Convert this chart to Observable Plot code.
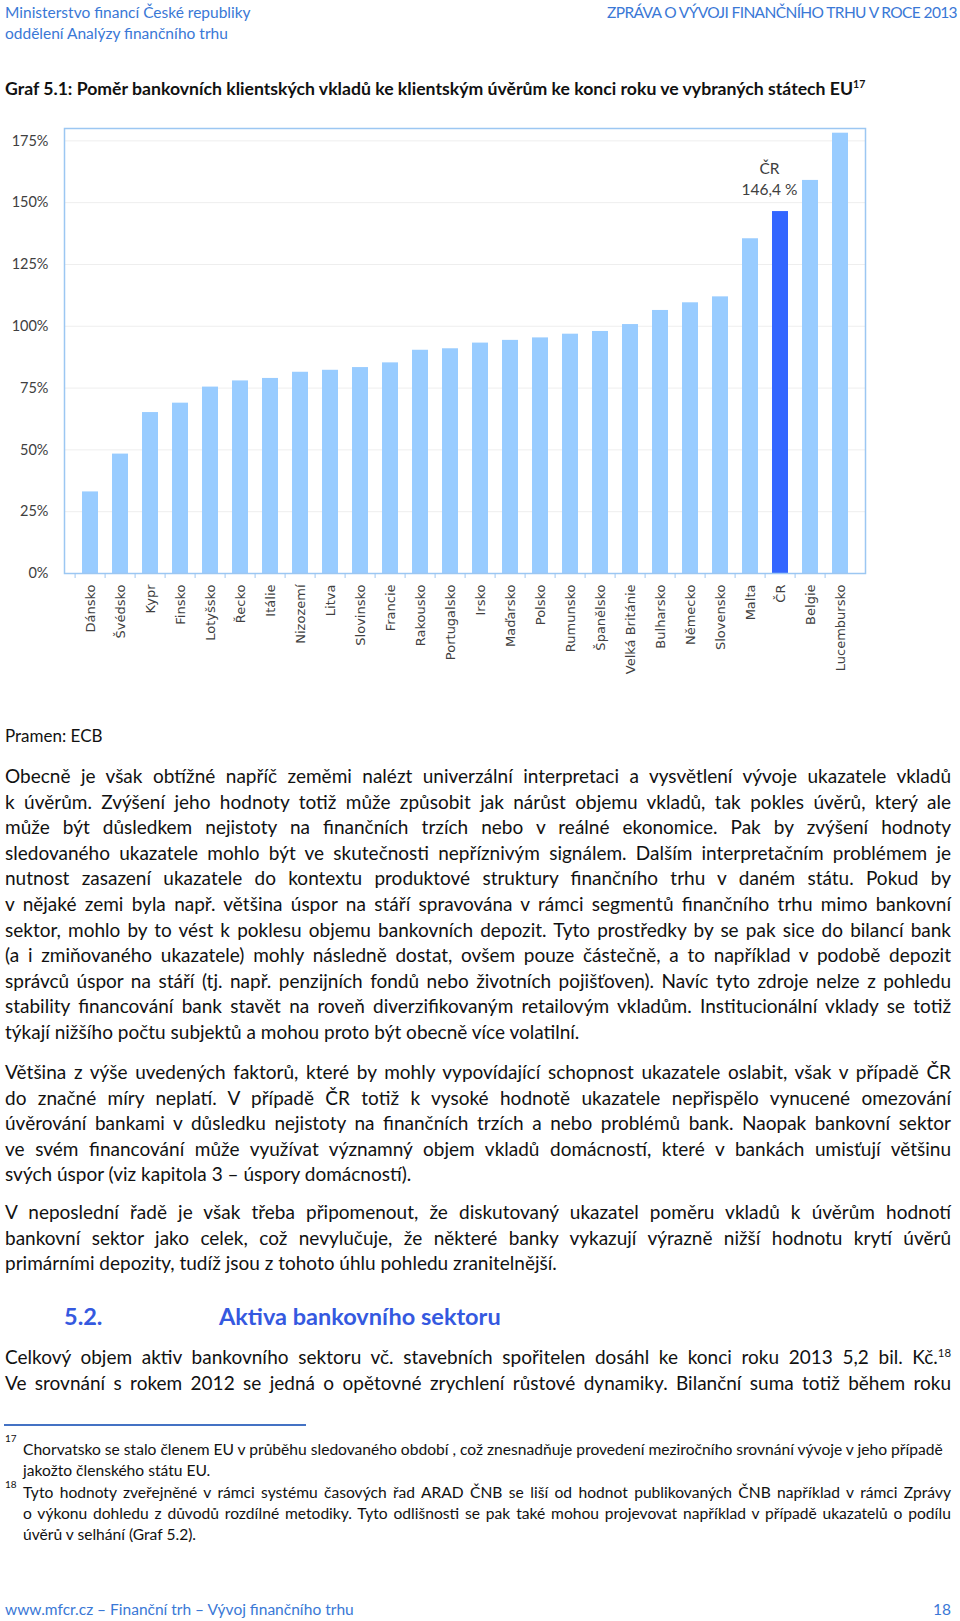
<!DOCTYPE html>
<html><head><meta charset="utf-8">
<script src="https://cdn.jsdelivr.net/npm/d3@7"></script>
<script src="https://cdn.jsdelivr.net/npm/@observablehq/plot@0.6"></script>
<style>
body{margin:0;width:960px;height:1621px;position:relative;background:#fff;font-family:Lato,"Open Sans",sans-serif;color:#111;overflow:hidden}
.a{position:absolute;white-space:nowrap}
.hdr{color:#3a78d6;font-size:15.5px;line-height:20px}
.title{font-weight:bold;font-size:17.65px;line-height:22px;left:5px;top:78px}
.body{font-size:19px;line-height:25.6px;left:5px;width:946px}
.body div{text-align:justify;text-align-last:justify;white-space:nowrap}
.body div.l{text-align:left;text-align-last:left}
.fn{font-size:15.6px;line-height:21px;left:23px;width:928px}
.fn div{text-align:justify;text-align-last:justify;white-space:nowrap}
.fn div.l{text-align:left;text-align-last:left}
sup{font-size:60%;line-height:0}
.h2{color:#3559e0;font-weight:bold;font-size:23.5px;line-height:28px}
#chart{position:absolute;left:0;top:100px}
</style></head>
<body>
<div class="a hdr" style="left:5px;top:2px">Ministerstvo financí České republiky</div>
<div class="a hdr" style="left:5px;top:23px">oddělení Analýzy finančního trhu</div>
<div class="a hdr" style="right:3px;top:2px;letter-spacing:-0.62px">ZPRÁVA O VÝVOJI FINANČNÍHO TRHU V ROCE 2013</div>
<div class="a title">Graf 5.1: Poměr bankovních klientských vkladů ke klientským úvěrům ke konci roku ve vybraných státech EU<sup>17</sup></div>
<div id="chart"></div>
<div class="a" style="left:5px;top:724px;font-size:17px;line-height:24px">Pramen: ECB</div>
<div class="a body" style="top:763px">
<div>Obecně je však obtížné napříč zeměmi nalézt univerzální interpretaci a vysvětlení vývoje ukazatele vkladů</div>
<div>k úvěrům. Zvýšení jeho hodnoty totiž může způsobit jak nárůst objemu vkladů, tak pokles úvěrů, který ale</div>
<div>může být důsledkem nejistoty na finančních trzích nebo v reálné ekonomice. Pak by zvýšení hodnoty</div>
<div>sledovaného ukazatele mohlo být ve skutečnosti nepříznivým signálem. Dalším interpretačním problémem je</div>
<div>nutnost zasazení ukazatele do kontextu produktové struktury finančního trhu v daném státu. Pokud by</div>
<div>v nějaké zemi byla např. většina úspor na stáří spravována v rámci segmentů finančního trhu mimo bankovní</div>
<div>sektor, mohlo by to vést k poklesu objemu bankovních depozit. Tyto prostředky by se pak sice do bilancí bank</div>
<div>(a i zmiňovaného ukazatele) mohly následně dostat, ovšem pouze částečně, a to například v podobě depozit</div>
<div>správců úspor na stáří (tj. např. penzijních fondů nebo životních pojišťoven). Navíc tyto zdroje nelze z pohledu</div>
<div>stability financování bank stavět na roveň diverzifikovaným retailovým vkladům. Institucionální vklady se totiž</div>
<div class="l">týkají nižšího počtu subjektů a mohou proto být obecně více volatilní.</div>
</div>
<div class="a body" style="top:1059px">
<div>Většina z výše uvedených faktorů, které by mohly vypovídající schopnost ukazatele oslabit, však v případě ČR</div>
<div>do značné míry neplatí. V případě ČR totiž k vysoké hodnotě ukazatele nepřispělo vynucené omezování</div>
<div>úvěrování bankami v důsledku nejistoty na finančních trzích a nebo problémů bank. Naopak bankovní sektor</div>
<div>ve svém financování může využívat významný objem vkladů domácností, které v bankách umisťují většinu</div>
<div class="l">svých úspor (viz kapitola 3 – úspory domácností).</div>
</div>
<div class="a body" style="top:1199px">
<div>V neposlední řadě je však třeba připomenout, že diskutovaný ukazatel poměru vkladů k úvěrům hodnotí</div>
<div>bankovní sektor jako celek, což nevylučuje, že některé banky vykazují výrazně nižší hodnotu krytí úvěrů</div>
<div class="l">primárními depozity, tudíž jsou z tohoto úhlu pohledu zranitelnější.</div>
</div>
<div class="a h2" style="left:64px;top:1302px">5.2.</div>
<div class="a h2" style="left:219px;top:1302px">Aktiva bankovního sektoru</div>
<div class="a body" style="top:1344px">
<div>Celkový objem aktiv bankovního sektoru vč. stavebních spořitelen dosáhl ke konci roku 2013 5,2 bil. Kč.<sup>18</sup></div>
<div>Ve srovnání s rokem 2012 se jedná o opětovné zrychlení růstové dynamiky. Bilanční suma totiž během roku</div>
</div>
<div class="a" style="left:4px;top:1424px;width:302px;height:1.5px;background:#4472c4"></div>
<div class="a" style="left:5px;top:1432px;font-size:10px;line-height:12px">17</div>
<div class="a fn" style="top:1439px">
<div class="l">Chorvatsko se stalo členem EU v průběhu sledovaného období , což znesnadňuje provedení meziročního srovnání vývoje v jeho případě</div>
<div class="l">jakožto členského státu EU.</div>
</div>
<div class="a" style="left:5px;top:1478px;font-size:10px;line-height:12px">18</div>
<div class="a fn" style="top:1482px">
<div>Tyto hodnoty zveřejněné v rámci systému časových řad ARAD ČNB se liší od hodnot publikovaných ČNB například v rámci Zprávy</div>
<div>o výkonu dohledu z důvodů rozdílné metodiky. Tyto odlišnosti se pak také mohou projevovat například v případě ukazatelů o podílu</div>
<div class="l">úvěrů v selhání (Graf 5.2).</div>
</div>
<div class="a hdr" style="left:5px;top:1599px">www.mfcr.cz – Finanční trh – Vývoj finančního trhu</div>
<div class="a hdr" style="right:9px;top:1599px">18</div>
<script>
const countries = ["Dánsko","Švédsko","Kypr","Finsko","Lotyšsko","Řecko","Itálie","Nizozemí","Litva","Slovinsko","Francie","Rakousko","Portugalsko","Irsko","Maďarsko","Polsko","Rumunsko","Španělsko","Velká Británie","Bulharsko","Německo","Slovensko","Malta","ČR","Belgie","Lucembursko"];
const ratios = [33.0,48.3,65.1,68.9,75.4,77.9,78.9,81.4,82.2,83.3,85.2,90.3,90.9,93.2,94.3,95.3,96.8,97.9,100.7,106.4,109.5,111.9,135.4,146.4,159.0,178.1];
const highlight = "ČR";
const yTicks = [0,25,50,75,100,125,150,175];

const data = countries.map((c, i) => ({country: c, value: ratios[i], group: c === highlight ? "hl" : "other"}));
const W = 960, mL = 64, mR = 95;
const step = (W - mL - mR) / countries.length;
const frameColor = "#9cc7f2";
const chart = Plot.plot({
  width: W, height: 590,
  marginLeft: mL, marginRight: mR, marginTop: 28, marginBottom: 117,
  x: {domain: countries, paddingInner: 0.48, paddingOuter: 0.24, label: null},
  y: {domain: [0, 180], label: null},
  color: {domain: ["other", "hl"], range: ["#99ccff", "#3366ff"]},
  style: {fontFamily: "Lato, sans-serif", background: "transparent", color: "#404040"},
  marks: [
    Plot.gridY({ticks: yTicks, stroke: "#eeeeee", strokeOpacity: 1}),
    Plot.barY(data, {x: "country", y: "value", fill: "group"}),
    Plot.frame({stroke: frameColor, strokeWidth: 1.5}),
    Plot.axisY({ticks: yTicks, tickSize: 0, tickPadding: 16, tickFormat: d => d + "%", fontSize: 14.5, fill: "#404040", label: null}),
    Plot.axisX({tickSize: 0, tickRotate: -90, tickPadding: 11, fontSize: 13, fontFamily: "DejaVu Sans", fill: "#404040", label: null}),
    Plot.axisX({tickSize: 5, tickFormat: () => "", dx: -step / 2, stroke: frameColor, label: null}),
    Plot.text(data.filter(d => d.country === highlight), {x: "country", y: "value", text: d => d.country, dy: -43, dx: -11, fontSize: 15.5, fill: "#404040"}),
    Plot.text(data.filter(d => d.country === highlight), {x: "country", y: "value", text: d => d.value.toFixed(1).replace(".", ",") + " %", dy: -22, dx: -11, fontSize: 15.5, fill: "#404040"})
  ]
});
document.getElementById("chart").appendChild(chart);
</script>
</body></html>
